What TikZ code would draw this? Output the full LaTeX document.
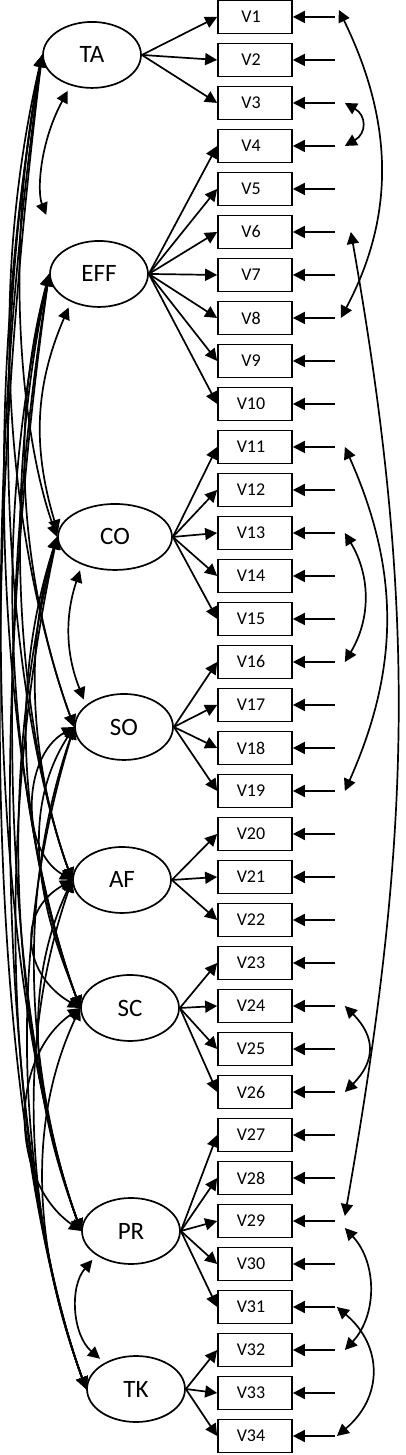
\documentclass[tikz,border=0pt]{standalone}
\usepackage{fontspec}
\setmainfont{Carlito}
\usetikzlibrary{calc,
shapes.geometric,
arrows.meta,
positioning}

\begin{document}
\begin{tikzpicture} [x = .05pt, y = .05pt,
  ->,
  >={Triangle[width = .6pt, length = .6pt]},
  line width = .085pt,
  latent/.style={ellipse, draw, inner sep = 0pt,
      minimum width = 4.9pt, minimum height = 3.3pt,
      font = \fontsize{1.25pt}{1.45pt}\selectfont},
  item/.style={rectangle, draw, inner sep = 0pt,
      minimum width = 3.7pt, minimum height = 1.65pt,
      font = \fontsize{.9pt}{1.1pt}\selectfont},
  cov/.style={<->},
  long cov/.style={<->, in = 110}]

  \useasboundingbox (0, 0) rectangle (405, -1455);

  % latent factors
  \node [latent] (ta)  at (92, -55)   {TA};
  \node [latent] (eff) at (99, -274)  {EFF};
  \node [latent, minimum width = 5.7pt] (co) at (115, -537) {CO};
  \node [latent] (so)  at (124, -727)  {SO};
  \node [latent] (af)  at (122, -880)  {AF};
  \node [latent] (sc)  at (130, -1008) {SC};
  \node [latent] (pr)  at (131, -1231) {PR};
  \node [latent] (tk)  at (136, -1389) {TK};

  % items, each with its error term
  \foreach \i in {1,...,34} {
    \node [item] (v\i) at (255, {-17 - 43*(\i - 1)}) {\hspace*{-.4pt}V\i};
    \coordinate (e\i) at ($(v\i.east) + (42, 0)$);
    \coordinate (c\i) at ($(v\i.east) + (52, 0)$);
    \draw (e\i) -- (v\i.east);
  }

  % loadings
  \foreach \f/\first/\last in {ta/1/3, eff/4/10, co/11/15, so/16/19,
      af/20/22, sc/23/26, pr/27/31, tk/32/34}
    \foreach \i in {\first,...,\last}
      \draw (\f.east) -- (v\i.west);

  % correlated errors
  \draw [cov] ([shift = {(-6, 7)}]c1) to [out = -64, in = 62, distance = 6pt] ([xshift = -.2pt]c8);
  \draw [cov] (c3) to [bend left = 60, looseness = 1.5] (c4);
  \draw [cov] ([xshift = .3pt]c6) to [out = -80, in = 80, distance = 19.3pt] ([yshift = .25pt]c29);
  \draw [cov] (c11) to [out = -66, in = 66, distance = 6.75pt] (c19);
  \draw [cov] (c13) to [bend left = 31] (c16);
  \draw [cov] (c24) to [bend left = 45, looseness = 1.3] (c26);
  \draw [cov] ([yshift = -.35pt]c29) to [bend left = 43] (c32);
  \draw [cov] ([xshift = -.4pt]c31) to [bend left = 50, looseness = 1.2] ([xshift = -.4pt]c34);

  % factor covariances, neighbours
  \draw [cov, shorten <= .3pt, shorten >= 2pt] (ta.235) to [bend right = 25] (eff.150);
  \draw [cov, shorten <= .3pt] (eff.225) to [bend right = 20] (co.175);
  \draw [cov, shorten <= .3pt, shorten >= .3pt] (co.220) to [bend right = 20] (so.150);
  \draw [cov] (so.west) to [out = 210, in = 150] (af.west);
  \draw [cov] (af.west) to [out = 210, in = 150, looseness = 1.3] (sc.west);
  \draw [cov] (sc.west) to [out = 215, in = 145] (pr.west);
  \draw [cov, shorten <= .3pt, shorten >= .3pt] (pr.215) to [bend right = 45] (tk.140);

  % factor covariances, the long ones
  \foreach \a/\b/\o/\dist in {ta/co/-101/482, ta/so/-103/672, ta/af/-100/825,
      ta/sc/-100/953, ta/pr/-98/1176, ta/tk/-97/1334,
      eff/so/-105/453, eff/af/-102/606, eff/sc/-103/734, eff/pr/-99/957, eff/tk/-98/1115,
      co/af/-107/343, co/sc/-108/471, co/pr/-104/694, co/tk/-102/852,
      so/sc/-123/281, so/pr/-109/504, so/tk/-107/662,
      af/pr/-115/351, af/tk/-109/509,
      sc/tk/-115/381}
    \draw [long cov, out = \o, out distance = {.0225*\dist pt}, in distance = {.0098*\dist pt}]
      (\a.west) to (\b.west);

\end{tikzpicture}
\end{document}
